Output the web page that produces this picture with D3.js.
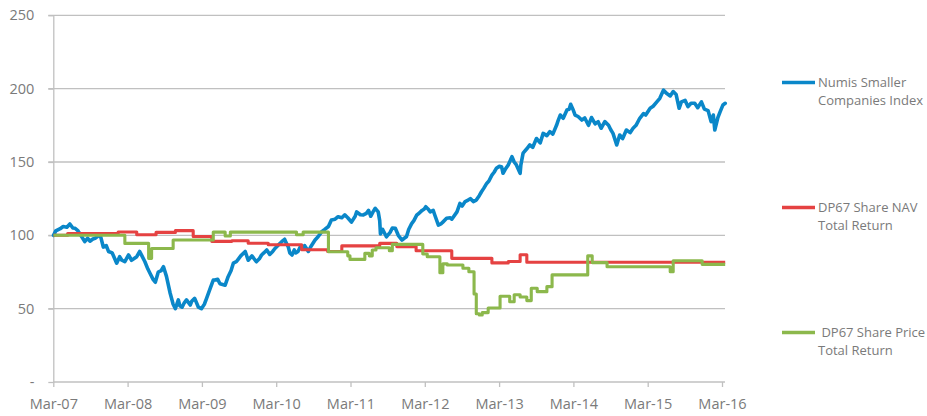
<!DOCTYPE html>
<html><head><meta charset="utf-8">
<script src="https://cdn.jsdelivr.net/npm/d3@7"></script>
<style>
html,body{margin:0;padding:0;background:#fff;}
svg{display:block;font-family:"Open Sans",sans-serif;}
</style></head>
<body><svg id="c" width="927" height="416"></svg>
<script>
// x values are decimal years (Mar-07 = 2007.17)
const numisYears = [2007.17,2007.20,2007.26,2007.30,2007.35,2007.39,2007.43,2007.46,2007.50,2007.55,2007.59,2007.63,2007.66,2007.70,2007.73,2007.77,2007.80,2007.84,2007.88,2007.91,2007.96,2008.02,2008.06,2008.09,2008.13,2008.18,2008.22,2008.25,2008.29,2008.33,2008.36,2008.40,2008.44,2008.47,2008.51,2008.54,2008.58,2008.62,2008.65,2008.69,2008.74,2008.78,2008.81,2008.85,2008.87,2008.90,2008.93,2008.96,2009.01,2009.03,2009.07,2009.12,2009.16,2009.20,2009.23,2009.28,2009.32,2009.34,2009.38,2009.41,2009.48,2009.52,2009.56,2009.59,2009.63,2009.66,2009.69,2009.75,2009.79,2009.84,2009.90,2009.94,2009.97,2010.00,2010.04,2010.08,2010.12,2010.15,2010.19,2010.22,2010.25,2010.28,2010.30,2010.33,2010.35,2010.38,2010.41,2010.43,2010.46,2010.49,2010.53,2010.55,2010.60,2010.63,2010.69,2010.73,2010.78,2010.82,2010.87,2010.91,2010.96,2011.00,2011.05,2011.09,2011.13,2011.18,2011.23,2011.25,2011.30,2011.34,2011.38,2011.41,2011.44,2011.47,2011.50,2011.54,2011.56,2011.57,2011.60,2011.65,2011.70,2011.73,2011.77,2011.81,2011.86,2011.89,2011.92,2011.95,2011.99,2012.02,2012.06,2012.09,2012.13,2012.16,2012.18,2012.21,2012.24,2012.28,2012.30,2012.35,2012.39,2012.41,2012.46,2012.51,2012.53,2012.60,2012.64,2012.67,2012.71,2012.75,2012.78,2012.82,2012.86,2012.90,2012.93,2012.96,2013.00,2013.03,2013.07,2013.10,2013.13,2013.17,2013.20,2013.22,2013.25,2013.29,2013.34,2013.37,2013.40,2013.45,2013.46,2013.49,2013.54,2013.58,2013.62,2013.67,2013.72,2013.76,2013.81,2013.85,2013.89,2013.94,2013.96,2013.99,2014.03,2014.08,2014.11,2014.13,2014.16,2014.19,2014.23,2014.28,2014.32,2014.37,2014.41,2014.46,2014.50,2014.54,2014.59,2014.64,2014.67,2014.70,2014.75,2014.79,2014.83,2014.88,2014.93,2014.97,2015.01,2015.06,2015.11,2015.14,2015.20,2015.24,2015.29,2015.33,2015.38,2015.42,2015.47,2015.51,2015.55,2015.59,2015.62,2015.67,2015.71,2015.75,2015.80,2015.84,2015.89,2015.93,2015.98,2016.02,2016.05,2016.07,2016.11,2016.14,2016.18,2016.21];
const numisValues = [100,103,104.5,106,105.5,107.7,105,104.8,103,99,95.7,98,96,97.5,98,99.5,100,92,93,89,88,81,85.4,83,82,86.6,83,84,85.4,89,86,82,77,74,70,68,75,76,78.6,72,60.5,53,50,56,52,51,54,56,52.5,55,57,51,50,53,57,64,69.5,69.5,70,67,66,71.8,76,81,82,84,86,89,83,86,82,84,86.6,88,90,87,89,91,93,94.6,96,97.3,95,92,88,86.6,90,88,89,92,91,93,89,92,96.8,99,102.5,104,106,110.5,111,112.7,112,113.9,112,109,113,116,114,113.9,115,117,113,116,118.4,116,110,101,104,99,102,105,104.8,100,96.8,98,99,104,108,110,113.9,115,117,118,119.5,118,116,117,114,107,108,109,111.6,112,111,116,121.8,120,123,124,125,123,124,127,129.7,132,135.4,137,141,143,145.7,147,146.8,142.3,145,148,153.6,150,148,142.3,148,156,159,161.6,160,166,163,169.5,168,170.7,169,175,178,182,179.8,185.5,186,189.3,186,182,181,178.6,180,175,180.3,176,177.5,173,177.5,175,172,169.5,161.6,168.4,166,171.8,170,173,175,179.8,183,182,186.6,188,191,193.4,199,196.8,195,198,196,186.6,191,192,187.7,190,190,187,191,186,185,177.5,182,171.8,180,184,188.9,190];

const navYears  = [2007.17,2007.36,2008.04,2008.29,2008.55,2008.81,2009.05,2009.30,2009.57,2009.79,2010.06,2010.51,2010.86,2011.05,2011.56,2011.79,2012.05,2012.53,2013.07,2013.29,2013.45,2013.54,2016.21];
const navValues = [100,101.2,102.3,100.4,102,103.2,99.2,95.9,96.3,94.6,93.6,90.2,89,92.8,94.5,92.3,89.5,84.3,81.2,82.2,86.8,81.6,81.6];

const priceYears  = [2007.17,2008.13,2008.45,2008.49,2008.78,2009.32,2009.48,2009.55,2010.44,2010.53,2010.87,2011.13,2011.16,2011.36,2011.42,2011.46,2011.51,2011.69,2011.73,2012.14,2012.20,2012.37,2012.41,2012.47,2012.68,2012.76,2012.83,2012.86,2012.90,2012.94,2013.02,2013.18,2013.31,2013.37,2013.45,2013.54,2013.60,2013.68,2013.81,2013.88,2014.36,2014.42,2014.62,2015.47,2015.51,2015.90,2016.21];
const priceValues = [100,94.5,84.3,91,96.8,102.2,99.5,102.2,100.4,102.2,88.8,86,83.6,87.7,86,90,91.5,89.5,93.8,87.3,85.4,74.5,80.5,79.8,77.5,75.2,60,46.5,45.7,47.3,50.5,58.5,54.7,59.5,58,55.5,63.9,61.6,65,73,86,81.4,78.6,75.2,82.7,80.2,80.2];

const xTickYears  = [2007.167,2008.167,2009.167,2010.167,2011.167,2012.167,2013.167,2014.167,2015.167,2016.167];
const xTickLabels = ["Mar-07","Mar-08","Mar-09","Mar-10","Mar-11","Mar-12","Mar-13","Mar-14","Mar-15","Mar-16"];
const yTicks = [0,50,100,150,200,250];
const seriesNames = [["Numis Smaller","Companies Index"],["DP67 Share NAV","Total Return"],[" DP67 Share Price","Total Return"]];
const seriesColors = ["#0a87c9","#e54242","#8cb84c"];

const svg = d3.select("#c");
const pLeft = 53.3, pRight = 725, pTop = 15.3, pBottom = 382;
const x = d3.scaleLinear().domain([2007.167, 2016.167]).range([pLeft, 722]);
const y = d3.scaleLinear().domain([0, 250]).range([pBottom, pTop]);

const gridColor = "#c0c0c0", textColor = "#7a7a7a";

// gridlines
svg.append("g").selectAll("line").data(yTicks.filter(d=>d>0)).join("line")
  .attr("x1", pLeft-5).attr("x2", pRight)
  .attr("y1", d=>y(d)).attr("y2", d=>y(d))
  .attr("stroke", gridColor).attr("stroke-width", 1.3);

// y axis
const ya = svg.append("g").attr("transform", `translate(${pLeft},0)`)
  .call(d3.axisLeft(y).tickValues(yTicks).tickSize(5).tickSizeOuter(0).tickPadding(14)
    .tickFormat(d => d === 0 ? "-" : d));
ya.select(".domain").attr("stroke", gridColor).attr("stroke-width", 1.3);
ya.selectAll(".tick line").attr("stroke", gridColor).attr("stroke-width", 1.3);
ya.selectAll(".tick text").attr("fill", textColor).attr("font-size", 14.5)
  .attr("font-family", "'Open Sans',sans-serif");

// x axis
const xa = svg.append("g").attr("transform", `translate(0,${pBottom})`)
  .call(d3.axisBottom(x).tickValues(xTickYears).tickSize(5).tickSizeOuter(0).tickPadding(12)
    .tickFormat((d,i) => xTickLabels[i]));
xa.select(".domain").remove();
xa.append("line").attr("x1", pLeft).attr("x2", pRight).attr("stroke", gridColor).attr("stroke-width", 1.3);
xa.selectAll(".tick line").attr("stroke", gridColor).attr("stroke-width", 1.3);
xa.selectAll(".tick text").attr("fill", textColor).attr("font-size", 14.5)
  .attr("font-family", "'Open Sans',sans-serif");

// lines
const mk = (xs, vs) => xs.map((d,i)=>({x:d, v:vs[i]}));
const lineSmooth = d3.line().x(d=>x(d.x)).y(d=>y(d.v));
const lineStep = d3.line().x(d=>x(d.x)).y(d=>y(d.v)).curve(d3.curveStepAfter);

svg.append("path").datum(mk(numisYears, numisValues))
  .attr("d", lineSmooth).attr("fill","none").attr("stroke", seriesColors[0])
  .attr("stroke-width", 3.6).attr("stroke-linejoin","round").attr("stroke-linecap","round");
svg.append("path").datum(mk(navYears, navValues))
  .attr("d", lineStep).attr("fill","none").attr("stroke", seriesColors[1])
  .attr("stroke-width", 3.1).attr("stroke-linejoin","round");
svg.append("path").datum(mk(priceYears, priceValues))
  .attr("d", lineStep).attr("fill","none").attr("stroke", seriesColors[2])
  .attr("stroke-width", 3.1).attr("stroke-linejoin","round");

// legend
const legY = [82.5, 207.5, 332.5];
const lg = svg.append("g");
seriesNames.forEach((nm, i) => {
  lg.append("line").attr("x1", 782).attr("x2", 815).attr("y1", legY[i]).attr("y2", legY[i])
    .attr("stroke", seriesColors[i]).attr("stroke-width", 3.3);
  const t = lg.append("text").attr("x", 818).attr("y", legY[i] + 4.7)
    .attr("fill", textColor).attr("font-size", 13)
    .style("white-space","pre");
  nm.forEach((ln, j) => {
    t.append("tspan").attr("x", 818).attr("y", legY[i] + 4.7 + j*18).text(ln);
  });
});
</script></body></html>
